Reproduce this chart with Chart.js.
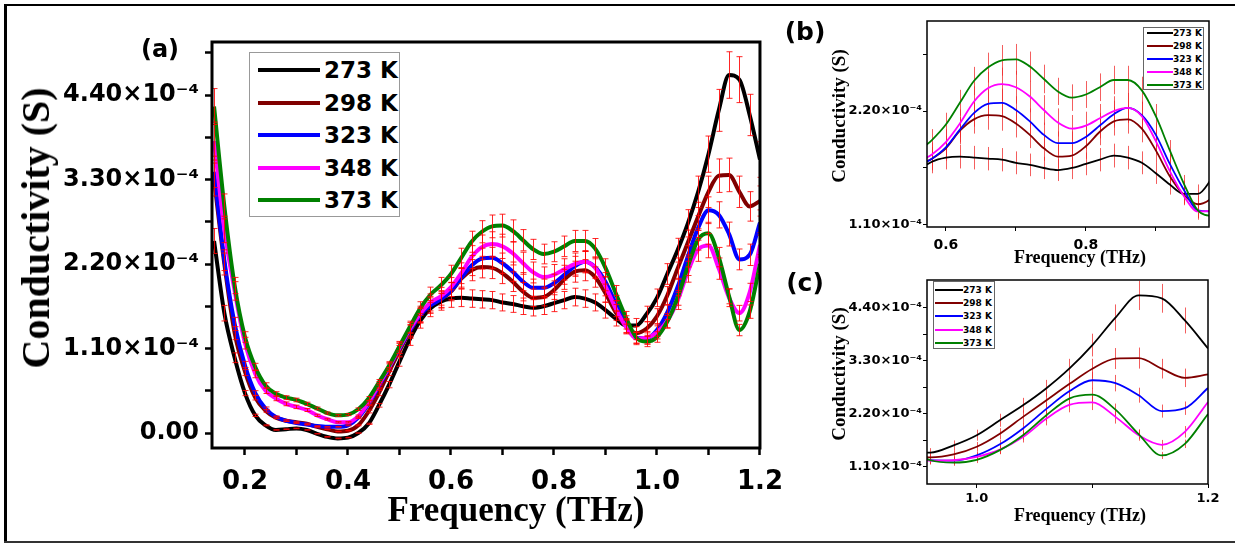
<!DOCTYPE html>
<html>
<head>
<meta charset="utf-8">
<title>Conductivity vs frequency</title>
<script src="https://cdn.jsdelivr.net/npm/chart.js@4.4.1/dist/chart.umd.min.js"></script>
<style>
  html, body { margin: 0; padding: 0; background: #fff; }
  #page { position: relative; width: 1235px; height: 545px; overflow: hidden; background: #fff; }
  canvas { position: absolute; }
  .txt { position: absolute; white-space: nowrap; line-height: 1; color: #000; }
  .serif { font-family: "Liberation Serif", "Times New Roman", serif; font-weight: bold; }
  .sans { font-family: "DejaVu Sans", sans-serif; font-weight: bold; }
  .center { transform: translate(-50%, -50%); }
  .vert { transform: translate(-50%, -50%) rotate(-90deg); }
  .legend { position: absolute; background: #fff; box-sizing: border-box; }
  .rule { position: absolute; background: #000; }
</style>
</head>
<body>
<div id="page">
  <div class="rule" style="left:4px;top:4px;width:1231px;height:2px;"></div>
  <div class="rule" style="left:4px;top:4px;width:3px;height:539px;"></div>
  <div class="rule" style="left:4px;top:541px;width:1231px;height:2px;background:#333;"></div>

  <canvas id="chartA" width="785" height="510" style="left:10px;top:20px;"></canvas>
  <canvas id="chartB" width="440" height="252" style="left:790px;top:6px;"></canvas>
  <canvas id="chartC" width="440" height="252" style="left:790px;top:266px;"></canvas>

  <div class="txt sans center" style="left:160px;top:49px;font-size:24px;">(a)</div>
  <div class="txt sans center" style="left:805px;top:31px;font-size:25px;">(b)</div>
  <div class="txt sans center" style="left:805px;top:282px;font-size:25px;">(c)</div>

  <div class="txt serif vert" style="left:36px;top:228px;font-size:40px;">Conductivity (S)</div>
  <div class="txt serif center" style="left:516px;top:509px;font-size:35px;">Frequency (THz)</div>
  <div class="txt serif vert" style="left:838px;top:116px;font-size:19px;">Conductivity (S)</div>
  <div class="txt serif center" style="left:1080px;top:257px;font-size:18px;">Frequency (THz)</div>
  <div class="txt serif vert" style="left:838px;top:374px;font-size:19px;">Conductivity (S)</div>
  <div class="txt serif center" style="left:1080px;top:515px;font-size:18px;">Frequency (THz)</div>

  <div id="legendA" class="legend" style="left:249px;top:52px;width:151px;height:165px;border:1px solid #999;"></div>
  <div id="legendB" class="legend" style="left:1143px;top:27px;width:61px;height:63px;border:1px solid #666;"></div>
  <div id="legendC" class="legend" style="left:933px;top:281px;width:62px;height:68px;border:1px solid #666;"></div>
</div>

<script>
// frequency grid (THz)
const freqTHz = [
  0.14, 0.16, 0.18, 0.20, 0.22, 0.24, 0.26, 0.28, 0.30, 0.32, 0.34, 0.36, 0.38, 0.40, 0.42, 0.44, 0.46, 0.48, 0.50, 0.52, 0.54, 0.56, 0.58,
  0.60, 0.62, 0.64, 0.66, 0.68, 0.70, 0.72, 0.74, 0.76, 0.78, 0.80, 0.82, 0.84, 0.86, 0.88, 0.90, 0.92, 0.94, 0.96, 0.98, 1.00, 1.02, 1.04, 1.06, 1.08, 1.10, 1.12, 1.14, 1.16, 1.18, 1.20
];

// conductivity, in units of 1e-4 S
const sigma273 = [
  2.50, 1.56, 0.98, 0.52, 0.23, 0.10, 0.04, 0.05, 0.06, 0.04, -0.01, -0.05, -0.07, -0.06, 0.00, 0.12, 0.36, 0.63, 0.93, 1.22, 1.46, 1.62, 1.71,
  1.75, 1.76, 1.75, 1.74, 1.73, 1.70, 1.68, 1.65, 1.63, 1.65, 1.69, 1.73, 1.77, 1.75, 1.70, 1.60, 1.49, 1.40, 1.40, 1.55, 1.76, 2.07, 2.38, 2.73, 3.14, 3.63, 4.20, 4.66, 4.60, 4.14, 3.56
];
const sigma298 = [
  3.30, 2.20, 1.30, 0.80, 0.46, 0.29, 0.20, 0.16, 0.14, 0.12, 0.08, 0.05, 0.02, 0.03, 0.10, 0.28, 0.52, 0.80, 1.07, 1.32, 1.53, 1.67, 1.74,
  1.84, 2.01, 2.12, 2.16, 2.15, 2.08, 1.97, 1.84, 1.76, 1.77, 1.86, 2.00, 2.10, 2.12, 2.03, 1.82, 1.57, 1.39, 1.30, 1.36, 1.52, 1.79, 2.14, 2.48, 2.82, 3.14, 3.35, 3.36, 3.14, 2.95, 3.02
];
const sigma323 = [
  3.40, 2.25, 1.42, 0.88, 0.52, 0.32, 0.21, 0.16, 0.13, 0.11, 0.09, 0.08, 0.08, 0.10, 0.20, 0.38, 0.61, 0.85, 1.10, 1.33, 1.53, 1.66, 1.74,
  1.85, 2.02, 2.18, 2.27, 2.28, 2.21, 2.10, 1.97, 1.89, 1.89, 1.95, 2.06, 2.17, 2.23, 2.16, 1.97, 1.69, 1.44, 1.24, 1.23, 1.34, 1.57, 1.90, 2.30, 2.67, 2.90, 2.84, 2.59, 2.26, 2.32, 2.74
];
const sigma348 = [
  3.80, 2.65, 1.85, 1.17, 0.77, 0.55, 0.45, 0.38, 0.34, 0.30, 0.23, 0.18, 0.14, 0.14, 0.22, 0.40, 0.63, 0.86, 1.11, 1.35, 1.55, 1.70, 1.78,
  1.90, 2.08, 2.29, 2.42, 2.46, 2.43, 2.34, 2.21, 2.09, 2.03, 2.06, 2.13, 2.20, 2.23, 2.15, 1.91, 1.62, 1.38, 1.23, 1.24, 1.31, 1.46, 1.72, 2.10, 2.39, 2.44, 2.14, 1.76, 1.56, 1.83, 2.45
];
const sigma373 = [
  4.25, 2.95, 1.92, 1.25, 0.86, 0.62, 0.51, 0.46, 0.43, 0.38, 0.32, 0.26, 0.23, 0.24, 0.31, 0.45, 0.66, 0.88, 1.13, 1.38, 1.62, 1.80, 1.92,
  2.07, 2.28, 2.49, 2.62, 2.69, 2.70, 2.63, 2.51, 2.39, 2.33, 2.36, 2.43, 2.50, 2.50, 2.40, 2.15, 1.82, 1.50, 1.24, 1.19, 1.25, 1.45, 1.76, 2.17, 2.52, 2.60, 2.29, 1.78, 1.34, 1.58, 2.20
];

const seriesLabels = ['273 K', '298 K', '323 K', '348 K', '373 K'];
const seriesValues = [sigma273, sigma298, sigma323, sigma348, sigma373];
const seriesColors = ['#000000', '#800000', '#0000ff', '#ff00ff', '#008000'];
// relative size of the error bars of each series
const errFrac = [0.065, 0.065, 0.06, 0.065, 0.055];

// tick positions and labels
const xTicksA = [0.2, 0.3, 0.4, 0.5, 0.6, 0.7, 0.8, 0.9, 1.0, 1.1, 1.2];
const xMajorA = [0.2, 0.4, 0.6, 0.8, 1.0, 1.2];
const xLabelsA = ['0.2', '0.4', '0.6', '0.8', '1.0', '1.2'];
const yTicksA = [0, 0.55, 1.1, 1.65, 2.2, 2.75, 3.3, 3.85, 4.4, 4.95];
const yMajorA = [0, 1.1, 2.2, 3.3, 4.4];
const yLabelsA = ['0.00', '1.10×10⁻⁴', '2.20×10⁻⁴', '3.30×10⁻⁴', '4.40×10⁻⁴'];

const xTicksB = [0.6, 0.7, 0.8, 0.9];
const xMajorB = [0.6, 0.8];
const xLabelsB = ['0.6', '0.8'];
const yTicksB = [1.1, 1.65, 2.2, 2.75];
const yMajorB = [1.1, 2.2];
const yLabelsB = ['1.10×10⁻⁴', '2.20×10⁻⁴'];

const xTicksC = [1.0, 1.1, 1.2];
const xMajorC = [1.0, 1.2];
const xLabelsC = ['1.0', '1.2'];
const yTicksC = [1.1, 1.65, 2.2, 2.75, 3.3, 3.85, 4.4];
const yMajorC = [1.1, 2.2, 3.3, 4.4];
const yLabelsC = ['1.10×10⁻⁴', '2.20×10⁻⁴', '3.30×10⁻⁴', '4.40×10⁻⁴'];

// error bars drawn with the chart's own scales
function drawErrorBars(chart, opts) {
    const { ctx, chartArea: a, scales: { x, y } } = chart;
    ctx.save();
    ctx.beginPath();
    ctx.rect(a.left, a.top, a.right - a.left, a.bottom - a.top);
    ctx.clip();
    ctx.strokeStyle = opts.color;
    ctx.lineWidth = opts.width;
    ctx.beginPath();
    chart.data.datasets.forEach(ds => {
        ds.data.forEach(p => {
            const e = Math.abs(p.y * ds.errFrac);
            const px = Math.round(x.getPixelForValue(p.x)) + 0.5;
            const y1 = y.getPixelForValue(p.y + e);
            const y2 = y.getPixelForValue(p.y - e);
            ctx.moveTo(px, y1);
            ctx.lineTo(px, y2);
            if (opts.cap) {
                ctx.moveTo(px - opts.cap, y1);
                ctx.lineTo(px + opts.cap, y1);
                ctx.moveTo(px - opts.cap, y2);
                ctx.lineTo(px + opts.cap, y2);
            }
        });
    });
    ctx.stroke();
    ctx.restore();
}

const errorBarPlugin = {
    id: 'errorBars',
    beforeDatasetsDraw(chart, args, opts) {
        if (opts.color && !opts.front) drawErrorBars(chart, opts);
    },
    afterDatasetsDraw(chart, args, opts) {
        if (opts.color && opts.front) drawErrorBars(chart, opts);
    }
};

const framePlugin = {
    id: 'frame',
    afterDraw(chart, args, opts) {
        if (!opts.width) return;
        const { ctx, chartArea: a } = chart;
        ctx.save();
        ctx.strokeStyle = opts.color;
        ctx.lineWidth = opts.width;
        ctx.strokeRect(a.left, a.top, a.right - a.left, a.bottom - a.top);
        ctx.restore();
    }
};

Chart.register(errorBarPlugin, framePlugin);

function labelFor(majors, labels) {
    return function(value) {
        const k = majors.findIndex(m => Math.abs(m - value) < 1e-6);
        return k < 0 ? '' : labels[k];
    };
}

function makePanel(id, p) {
    const datasets = seriesValues.map((vals, i) => ({
        label: seriesLabels[i],
        data: freqTHz.map((f, j) => ({ x: f, y: vals[j] })),
        borderColor: seriesColors[i],
        backgroundColor: seriesColors[i],
        borderWidth: p.lineWidth,
        pointRadius: 0,
        cubicInterpolationMode: 'monotone',
        order: seriesValues.length - i,
        errFrac: errFrac[i]
    }));

    return new Chart(document.getElementById(id), {
        type: 'line',
        data: { datasets },
        options: {
            responsive: false,
            animation: false,
            devicePixelRatio: 1,
            layout: { padding: { left: 0, top: p.padTop, right: p.padRight, bottom: 0 } },
            plugins: {
                legend: { display: false },
                tooltip: { enabled: false },
                errorBars: p.errorBars,
                frame: { width: p.frameWidth, color: '#000' }
            },
            scales: {
                x: {
                    type: 'linear',
                    min: p.xMin,
                    max: p.xMax,
                    afterBuildTicks: axis => { axis.ticks = p.xTicks.map(v => ({ value: v })); },
                    afterFit: axis => { axis.height = p.xAxisH; },
                    border: { display: false },
                    grid: { drawOnChartArea: false, drawTicks: true, tickLength: p.tickLength, tickWidth: p.tickWidth, tickColor: '#000' },
                    ticks: {
                        autoSkip: false,
                        maxRotation: 0,
                        padding: p.xPad,
                        color: '#000',
                        font: { family: 'DejaVu Sans', size: p.xFont, weight: 'bold' },
                        callback: labelFor(p.xMajor, p.xLabels)
                    }
                },
                y: {
                    type: 'linear',
                    min: p.yMin,
                    max: p.yMax,
                    afterBuildTicks: axis => { axis.ticks = p.yTicks.map(v => ({ value: v })); },
                    afterFit: axis => { axis.width = p.yAxisW; },
                    border: { display: false },
                    grid: { drawOnChartArea: false, drawTicks: true, tickLength: p.tickLength, tickWidth: p.tickWidth, tickColor: '#000' },
                    ticks: {
                        autoSkip: false,
                        padding: p.yPad,
                        color: '#000',
                        font: { family: 'DejaVu Sans', size: p.yFont, weight: 'bold' },
                        callback: labelFor(p.yMajor, p.yLabels)
                    }
                }
            }
        }
    });
}

makePanel('chartA', {
    xMin: 0.136, xMax: 1.2, yMin: -0.195, yMax: 5.09,
    xTicks: xTicksA, xMajor: xMajorA, xLabels: xLabelsA,
    yTicks: yTicksA, yMajor: yMajorA, yLabels: yLabelsA,
    yAxisW: 202, xAxisH: 82, padTop: 22, padRight: 27,
    lineWidth: 4, frameWidth: 3, tickLength: 7, tickWidth: 2.5,
    xFont: 26, yFont: 24, xPad: 12, yPad: 6,
    errorBars: { color: 'rgba(255,0,0,0.85)', width: 1, cap: 3, front: true }
});

makePanel('chartB', {
    xMin: 0.573, xMax: 0.976, yMin: 1.08, yMax: 3.07,
    xTicks: xTicksB, xMajor: xMajorB, xLabels: xLabelsB,
    yTicks: yTicksB, yMajor: yMajorB, yLabels: yLabelsB,
    yAxisW: 137, xAxisH: 31, padTop: 15, padRight: 21,
    lineWidth: 1.8, frameWidth: 1.5, tickLength: 4, tickWidth: 1,
    xFont: 14, yFont: 13, xPad: 6, yPad: 1,
    errorBars: { color: 'rgba(240,40,40,0.75)', width: 1, cap: 0, front: false }
});

makePanel('chartC', {
    xMin: 0.957, xMax: 1.2, yMin: 0.747, yMax: 4.98,
    xTicks: xTicksC, xMajor: xMajorC, xLabels: xLabelsC,
    yTicks: yTicksC, yMajor: yMajorC, yLabels: yLabelsC,
    yAxisW: 137, xAxisH: 34, padTop: 14, padRight: 22,
    lineWidth: 1.8, frameWidth: 1.5, tickLength: 4, tickWidth: 1,
    xFont: 13, yFont: 13, xPad: 3, yPad: 1,
    errorBars: { color: 'rgba(240,40,40,0.75)', width: 1, cap: 0, front: false }
});

// legends
function buildLegend(id, g) {
    const box = document.getElementById(id);
    seriesLabels.forEach((label, i) => {
        const line = document.createElement('div');
        line.style.cssText = `position:absolute;left:${g.lineLeft}px;top:${g.rows[i] - g.lineH / 2}px;width:${g.lineW}px;height:${g.lineH}px;background:${seriesColors[i]};`;
        box.appendChild(line);
        const txt = document.createElement('div');
        txt.className = 'txt sans';
        txt.style.cssText = `left:${g.textLeft}px;top:${g.rows[i]}px;font-size:${g.font}px;transform:translateY(-50%);`;
        txt.textContent = label;
        box.appendChild(txt);
    });
}

buildLegend('legendA', { rows: [17, 50, 82, 115, 147], lineLeft: 8, lineW: 62, lineH: 4, textLeft: 74, font: 23 });
buildLegend('legendB', { rows: [5, 18, 31, 44, 57], lineLeft: 3, lineW: 26, lineH: 2, textLeft: 29, font: 9 });
buildLegend('legendC', { rows: [7.5, 21, 34, 47.5, 61], lineLeft: 1, lineW: 28, lineH: 2, textLeft: 29, font: 9 });
</script>
</body>
</html>
